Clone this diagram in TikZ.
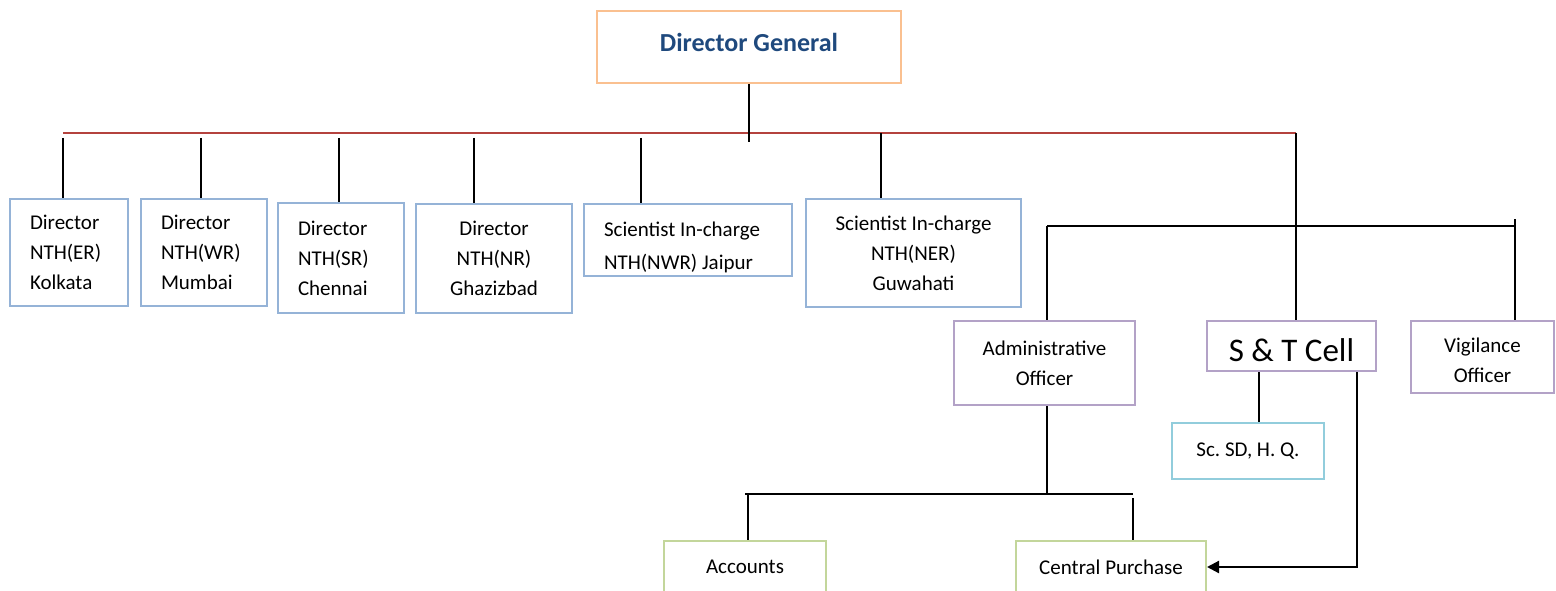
\documentclass[tikz,border=0pt]{standalone}
\usepackage{fontspec}
\setmainfont{Carlito}
\usetikzlibrary{arrows.meta}

\definecolor{dgorange}{RGB}{250,192,144}
\definecolor{dgblue}{RGB}{31,73,125}
\definecolor{nthblue}{RGB}{149,179,215}
\definecolor{offpurple}{RGB}{179,162,199}
\definecolor{sccyan}{RGB}{146,205,220}
\definecolor{secgreen}{RGB}{195,214,155}
\definecolor{busred}{RGB}{180,66,62}

\begin{document}
\frenchspacing
\begin{tikzpicture}[x=1pt,y=-1pt,
  box/.style={draw, line width=2pt, anchor=north west, inner sep=0pt,
    font=\fontsize{21}{30}\selectfont},
  nthbox/.style={box, draw=nthblue},
  leftbox/.style={nthbox, align=flush left, inner xsep=20pt},
  offbox/.style={box, draw=offpurple, align=center},
  secbox/.style={box, draw=secgreen, align=center},
  link/.style={line width=1.4pt},
  busline/.style={line width=2.4pt, draw=busred}]

% Page size of the chart
\useasboundingbox (0,0) rectangle (1556,591);
\clip (0,0) rectangle (1556,591);

% Top of the chart
\node[box, draw=dgorange, minimum width=304pt, minimum height=72pt,
  text depth=10pt, font=\fontsize{26}{30}\selectfont\bfseries,
  text=dgblue] (dg) at (596,10) {Director General};

% The red bus under the Director General
\coordinate (busL) at (63,133);
\coordinate (busR) at (1296,133);
\draw[busline] (busL) -- (busR);
\draw[link] (dg.south) -- ++(0,58);

% Regional heads
\node[leftbox, text width=78pt, minimum height=107pt] (dER) at (9,198)
  {Director\\NTH(ER)\\Kolkata};
\node[leftbox, text width=86pt, minimum height=107pt] (dWR) at (140,198)
  {Director\\NTH(WR)\\Mumbai};
\node[leftbox, text width=86pt, minimum height=110pt] (dSR) at (277,202)
  {Director\\NTH(SR)\\Chennai};
\node[nthbox, align=center, minimum width=156pt, minimum height=109pt] (dNR) at (415,203)
  {Director\\NTH(NR)\\Ghazizbad};
\node[leftbox, text width=168pt, minimum height=72pt, text height=30pt,
  font=\fontsize{21}{33}\selectfont] (dNWR) at (583,203)
  {Scientist In-charge\\NTH(NWR) Jaipur};
\node[nthbox, align=center, minimum width=215pt, minimum height=108pt] (dNER) at (805,198)
  {Scientist In-charge\\NTH(NER)\\Guwahati};

% Drops from the bus to the regional heads
\foreach \n/\x in {dER/63, dWR/201, dSR/339, dNR/474, dNWR/641}
  \draw[link] (\x,138) -- (\n.north -| \x,0);
\draw[link] (881,133) -- (dNER.north -| 881,0);

% Officers at headquarters
\node[offbox, minimum width=181pt, minimum height=84pt] (ao) at (953,320)
  {Administrative\\Officer};
\node[offbox, minimum width=169pt, minimum height=50pt, text height=32pt,
  font=\fontsize{33}{36}\selectfont] (st) at (1206,320) {S \& T Cell};
\node[offbox, minimum width=143pt, minimum height=72pt, text height=52pt] (vo) at (1410,320)
  {Vigilance\\Officer};

% Second bus
\coordinate (bus2L) at (1047,226);
\coordinate (bus2R) at (1515,226);
\draw[link] (bus2L) -- (bus2R);
\draw[link] (busR) -- (busR |- st.north);
\draw[link] (bus2L) -- (bus2L |- ao.north);
\draw[link] (1515,219) -- (vo.north -| 1515,0);

% Under the S & T Cell
\node[box, draw=sccyan, minimum width=152pt, minimum height=56pt] (sc) at (1171,422)
  {Sc. SD, H. Q.};
\draw[link] (st.south -| 1259,0) -- (sc.north -| 1259,0);

% Sections under the Administrative Officer
\node[secbox, minimum width=162pt, minimum height=52pt] (acc) at (663,540) {Accounts};
\node[secbox, minimum width=190pt, minimum height=52pt] (cp) at (1015,540) {Central Purchase};

\coordinate (bus3L) at (745,494);
\coordinate (bus3R) at (1133,494);
\draw[link] (ao.south -| 1047,0) -- (1047,494);
\draw[link] (bus3L) -- (bus3R);
\draw[link] (748,494) -- (acc.north -| 748,0);
\draw[link] (1133,498) -- (cp.north -| 1133,0);

% Arrow from the S & T Cell to Central Purchase
\draw[line width=2.2pt, -{Triangle[length=12pt,width=12pt]}]
  (st.south -| 1357,0) |- (cp.east);

\end{tikzpicture}
\end{document}
